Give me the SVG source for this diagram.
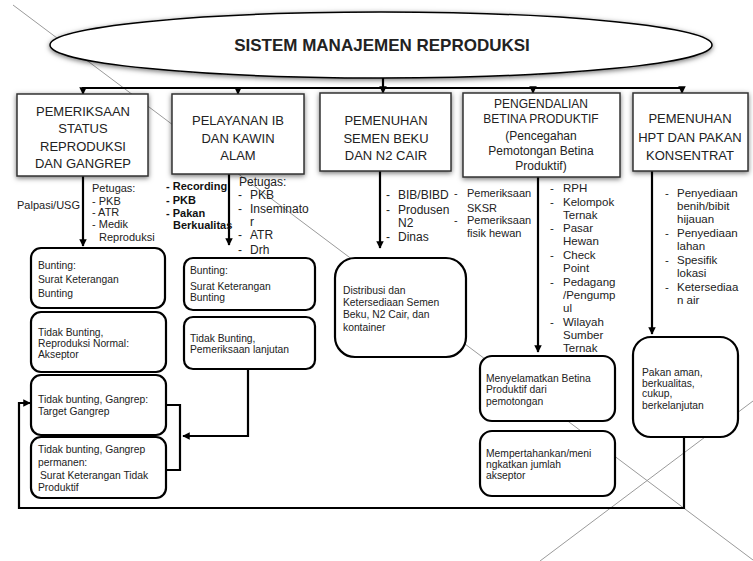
<svg xmlns="http://www.w3.org/2000/svg" width="753" height="561" viewBox="0 0 753 561">
<defs>
<filter id="sh" x="-10%" y="-20%" width="120%" height="140%">
<feDropShadow dx="0" dy="1.5" stdDeviation="2.5" flood-color="#000" flood-opacity="0.55"/>
</filter>
<marker id="ah" viewBox="0 0 10 10" refX="9" refY="5" markerWidth="3.4" markerHeight="3.4" orient="auto-start-reverse">
<path d="M0,0 L10,5 L0,10 z" fill="#000"/>
</marker>
</defs>
<style>
.bg{fill:#fff}
.deco{stroke:#9a9a9a;stroke-width:1;fill:none}
.top{fill:#fff;stroke:#333;stroke-width:1.5;filter:url(#sh)}
.rb{fill:#fff;stroke:#000;stroke-width:2.2}
.con{stroke:#000;stroke-width:2.2;fill:none}
.t{font-family:"Liberation Sans",Arial,sans-serif;fill:#222}
.h{font-size:13px;text-anchor:middle}
.h4{font-size:12px;text-anchor:middle}
.s{font-size:11px}
.m{font-size:12px}
.l{font-size:11.5px}
.b{font-size:10.3px}
.bold{font-weight:bold;font-size:11px;fill:#111}
</style>
<rect class="bg" x="0" y="0" width="753" height="561"/>
<g id="decoration">
<line class="deco" x1="13" y1="5" x2="753" y2="560"/>
<line class="deco" x1="540" y1="561" x2="753" y2="401"/>
</g>
<g id="title">
<ellipse cx="381" cy="45" rx="331" ry="33" fill="#fff" stroke="#000" stroke-width="1.5" filter="url(#sh)"/>
<text class="t" x="382" y="51" font-size="17" font-weight="bold" text-anchor="middle" fill="#000">SISTEM MANAJEMEN REPRODUKSI</text>
</g>
<g id="connectors">
<line class="con" x1="383" y1="78" x2="383" y2="88"/>
<line class="con" x1="82" y1="88" x2="683" y2="88"/>
<line class="con" x1="83" y1="88" x2="83" y2="94" marker-end="url(#ah)"/>
<line class="con" x1="238" y1="88" x2="238" y2="94" marker-end="url(#ah)"/>
<line class="con" x1="383" y1="88" x2="383" y2="93" marker-end="url(#ah)"/>
<line class="con" x1="533" y1="88" x2="533" y2="93" marker-end="url(#ah)"/>
<line class="con" x1="682" y1="88" x2="682" y2="93" marker-end="url(#ah)"/>
<line class="con" x1="83" y1="176" x2="83" y2="246" marker-end="url(#ah)"/>
<line class="con" x1="229" y1="174" x2="229" y2="245" marker-end="url(#ah)"/>
<line class="con" x1="380" y1="171" x2="380" y2="248" marker-end="url(#ah)"/>
<line class="con" x1="538" y1="177" x2="538" y2="352" marker-end="url(#ah)"/>
<line class="con" x1="652" y1="171" x2="652" y2="334" marker-end="url(#ah)"/>
<path class="con" d="M166,405 H180 V470 H166"/>
<path class="con" d="M248,369 V436 H183" marker-end="url(#ah)"/>
<path class="con" d="M684,437 V508 H19 V403 H30" marker-end="url(#ah)"/>
</g>
<g id="n1">
<rect class="top" x="17" y="94" width="131" height="82"/>
<text class="t h" x="83" y="116">PEMERIKSAAN</text>
<text class="t h" x="83" y="133">STATUS</text>
<text class="t h" x="83" y="151">REPRODUKSI</text>
<text class="t h" x="83" y="168">DAN GANGREP</text>
</g>
<g id="n2">
<rect class="top" x="172" y="94" width="132" height="80"/>
<text class="t h" x="238" y="125">PELAYANAN IB</text>
<text class="t h" x="238" y="143">DAN KAWIN</text>
<text class="t h" x="238" y="160">ALAM</text>
</g>
<g id="n3">
<rect class="top" x="320" y="93" width="131" height="78"/>
<text class="t h" x="386" y="125">PEMENUHAN</text>
<text class="t h" x="386" y="143">SEMEN BEKU</text>
<text class="t h" x="386" y="160">DAN N2 CAIR</text>
</g>
<g id="n4">
<rect class="top" x="463" y="93" width="157" height="84"/>
<text class="t h4" x="541" y="107.5" font-size="11.5">PENGENDALIAN</text>
<text class="t h4" x="541" y="122.5" font-size="11.5">BETINA PRODUKTIF</text>
<text class="t h4" x="541" y="139.5">(Pencegahan</text>
<text class="t h4" x="541" y="154.5">Pemotongan Betina</text>
<text class="t h4" x="541" y="169.5">Produktif)</text>
</g>
<g id="n5">
<rect class="top" x="633" y="93" width="115" height="78"/>
<text class="t h" x="690" y="123">PEMENUHAN</text>
<text class="t h" x="690" y="142">HPT DAN PAKAN</text>
<text class="t h" x="690" y="160">KONSENTRAT</text>
</g>
<g id="labels1">
<text class="t s" x="80" y="209" text-anchor="end">Palpasi/USG</text>
<text class="t s" x="92" y="192">Petugas:</text>
<text class="t s" x="92" y="205">-  PKB</text>
<text class="t s" x="92" y="216">- ATR</text>
<text class="t s" x="92" y="228">- Medik</text>
<text class="t s" x="99" y="241">Reproduksi</text>
</g>
<g id="labels2">
<text class="t bold" x="166" y="190">- Recording</text>
<text class="t bold" x="166" y="204">- PKB</text>
<text class="t bold" x="166" y="217">- Pakan</text>
<text class="t bold" x="173" y="229">Berkualitas</text>
<text class="t m" x="239" y="186">Petugas:</text>
<text class="t m" x="238" y="199">-</text><text class="t m" x="250" y="199">PKB</text>
<text class="t m" x="238" y="213">-</text><text class="t m" x="250" y="213">Inseminato</text>
<text class="t m" x="250" y="226">r</text>
<text class="t m" x="238" y="239">-</text><text class="t m" x="250" y="239">ATR</text>
<text class="t m" x="238" y="254">-</text><text class="t m" x="250" y="254">Drh</text>
</g>
<g id="labels3">
<text class="t m" x="386" y="199">-</text><text class="t m" x="398" y="199">BIB/BIBD</text>
<text class="t m" x="386" y="214">-</text><text class="t m" x="398" y="214">Produsen</text>
<text class="t m" x="398" y="227">N2</text>
<text class="t m" x="386" y="241">-</text><text class="t m" x="398" y="241">Dinas</text>
</g>
<g id="labels4">
<text class="t s" x="454" y="197">-</text><text class="t s" x="467" y="197">Pemeriksaan</text>
<text class="t s" x="467" y="212">SKSR</text>
<text class="t s" x="454" y="224">-</text><text class="t s" x="467" y="224">Pemeriksaan</text>
<text class="t s" x="467" y="237">fisik hewan</text>
<text class="t l" x="550" y="192">-</text><text class="t l" x="563" y="192">RPH</text>
<text class="t l" x="550" y="206">-</text><text class="t l" x="563" y="206">Kelompok</text>
<text class="t l" x="563" y="219">Ternak</text>
<text class="t l" x="550" y="232">-</text><text class="t l" x="563" y="232">Pasar</text>
<text class="t l" x="563" y="245">Hewan</text>
<text class="t l" x="550" y="259">-</text><text class="t l" x="563" y="259">Check</text>
<text class="t l" x="563" y="272">Point</text>
<text class="t l" x="550" y="286">-</text><text class="t l" x="563" y="286">Pedagang</text>
<text class="t l" x="563" y="299">/Pengump</text>
<text class="t l" x="563" y="312">ul</text>
<text class="t l" x="550" y="326">-</text><text class="t l" x="563" y="326">Wilayah</text>
<text class="t l" x="563" y="339">Sumber</text>
<text class="t l" x="563" y="352">Ternak</text>
</g>
<g id="labels5">
<text class="t l" x="665" y="197">-</text><text class="t l" x="677" y="197">Penyediaan</text>
<text class="t l" x="677" y="210">benih/bibit</text>
<text class="t l" x="677" y="223">hijauan</text>
<text class="t l" x="665" y="237">-</text><text class="t l" x="677" y="237">Penyediaan</text>
<text class="t l" x="677" y="250">lahan</text>
<text class="t l" x="665" y="264">-</text><text class="t l" x="677" y="264">Spesifik</text>
<text class="t l" x="677" y="277">lokasi</text>
<text class="t l" x="665" y="291">-</text><text class="t l" x="677" y="291">Ketersediaa</text>
<text class="t l" x="677" y="304">n air</text>
</g>
<g id="b1">
<rect class="rb" x="31" y="248" width="134" height="60" rx="10"/>
<text class="t b" x="38" y="269">Bunting:</text>
<text class="t b" x="38" y="283">Surat Keterangan</text>
<text class="t b" x="38" y="297">Bunting</text>
</g>
<g id="b2">
<rect class="rb" x="31" y="312" width="135" height="60" rx="10"/>
<text class="t b" x="38" y="336">Tidak Bunting,</text>
<text class="t b" x="38" y="347">Reproduksi Normal:</text>
<text class="t b" x="38" y="358">Akseptor</text>
</g>
<g id="b3">
<rect class="rb" x="31" y="375" width="135" height="60" rx="10"/>
<text class="t b" x="38" y="403">Tidak bunting, Gangrep:</text>
<text class="t b" x="38" y="415">Target Gangrep</text>
</g>
<g id="b4">
<rect class="rb" x="31" y="437" width="135" height="61" rx="10"/>
<text class="t b" x="38" y="453">Tidak bunting, Gangrep</text>
<text class="t b" x="38" y="466">permanen:</text>
<text class="t b" x="40" y="479"> Surat Keterangan Tidak</text>
<text class="t b" x="38" y="491">Produktif</text>
</g>
<g id="b5">
<rect class="rb" x="184" y="258" width="131" height="52" rx="9"/>
<text class="t b" x="190" y="274">Bunting:</text>
<text class="t b" x="190" y="290">Surat Keterangan</text>
<text class="t b" x="190" y="301">Bunting</text>
</g>
<g id="b6">
<rect class="rb" x="184" y="317" width="131" height="52" rx="9"/>
<text class="t b" x="190" y="342">Tidak Bunting,</text>
<text class="t b" x="190" y="353">Pemeriksaan lanjutan</text>
</g>
<g id="b7">
<rect class="rb" x="335" y="258" width="131" height="99" rx="20"/>
<text class="t b" x="343" y="294">Distribusi dan</text>
<text class="t b" x="343" y="306">Ketersediaan Semen</text>
<text class="t b" x="343" y="318">Beku, N2 Cair, dan</text>
<text class="t b" x="343" y="331">kontainer</text>
</g>
<g id="b8">
<rect class="rb" x="480" y="356" width="135" height="65" rx="12"/>
<text class="t b" x="486" y="382">Menyelamatkan Betina</text>
<text class="t b" x="486" y="393">Produktif dari</text>
<text class="t b" x="486" y="405">pemotongan</text>
</g>
<g id="b9">
<rect class="rb" x="480" y="431" width="135" height="65" rx="12"/>
<text class="t b" x="486" y="457">Mempertahankan/meni</text>
<text class="t b" x="486" y="468">ngkatkan jumlah</text>
<text class="t b" x="486" y="479">akseptor</text>
</g>
<g id="b10">
<rect class="rb" x="633" y="337" width="105" height="100" rx="18"/>
<text class="t b" x="642" y="376">Pakan aman,</text>
<text class="t b" x="642" y="387">berkualitas,</text>
<text class="t b" x="642" y="397">cukup,</text>
<text class="t b" x="642" y="409">berkelanjutan</text>
</g>
</svg>
